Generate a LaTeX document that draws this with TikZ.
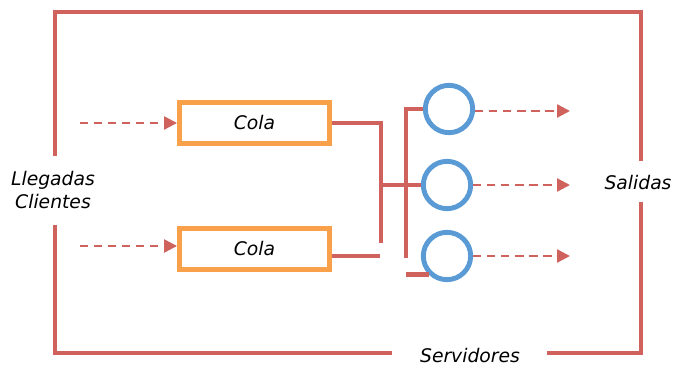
\documentclass[tikz,border=0pt]{standalone}
\usepackage{fontspec}
\setmainfont{DejaVu Sans}
\usetikzlibrary{arrows.meta, positioning, calc}
\definecolor{lnk}{HTML}{D0625D}
\definecolor{qcol}{HTML}{F9A04A}
\definecolor{srv}{HTML}{5B9BD5}

\begin{document}
\begin{tikzpicture}[x=0.03cm, y=-0.03cm, >={Triangle[length=11pt, width=11pt]},
      lbl/.style={font=\itshape\fontsize{16}{19}\selectfont, align=center},
      queue/.style={draw=qcol, line width=4.2pt, minimum width=4.5cm,
                    minimum height=1.23cm, font=\itshape\fontsize{16}{19}\selectfont},
      server/.style={circle, draw=srv, line width=4.2pt, minimum size=1.42cm},
      wire/.style={draw=lnk, line width=4.2pt},
      flow/.style={draw=lnk, line width=2pt, dash pattern=on 7pt off 5pt, ->}]
    \useasboundingbox (0,0) rectangle (673,366);

    % system frame, open where the labels sit
    \draw[wire] (55,156) -- (55,12) -- (641,12) -- (641,161);
    \draw[wire] (641,202) -- (641,353) -- (547,353);
    \draw[wire] (392,353) -- (55,353) -- (55,225);
    \node[lbl] (arr) at (53,190) {Llegadas\\Clientes};
    \node[lbl] (dep) at (638,183) {Salidas};
    \node[lbl] (srvlbl) at (470,356) {Servidores};

    % queues
    \node[queue] (q1) at (254.5,123) {Cola};
    \node[queue] (q2) at (254.5,249) {Cola};
    \coordinate (in1) at (80,123);
    \coordinate (in2) at (80,246);
    \draw[flow] (in1) -- (q1.west);
    \draw[flow] (in2) -- (q2.west |- in2);

    % servers
    \node[server] (s1) at (449,109) {};
    \node[server] (s2) at (447,185) {};
    \node[server] (s3) at (447,256) {};

    % routing from queues to servers
    \coordinate (busa) at (381,123);
    \coordinate (busb) at (406,109);
    \draw[wire] (q1.east) -- (busa) -- (381,243);
    \draw[wire] ($(q2.east)+(0,7)$) -- (380,256);
    \draw[wire] (381,185) -- (s2.west);
    \draw[wire] (s1.west) -- (busb) -- (406,258);
    \draw[wire] (s3.south west) -- ++(-23,0);

    % departures
    \coordinate (out1) at (570,111);
    \coordinate (out2) at (570,185);
    \coordinate (out3) at (570,256);
    \draw[flow] (s1.east |- out1) -- (out1);
    \draw[flow] (s2.east) -- (out2);
    \draw[flow] (s3.east) -- (out3);
\end{tikzpicture}
\end{document}
